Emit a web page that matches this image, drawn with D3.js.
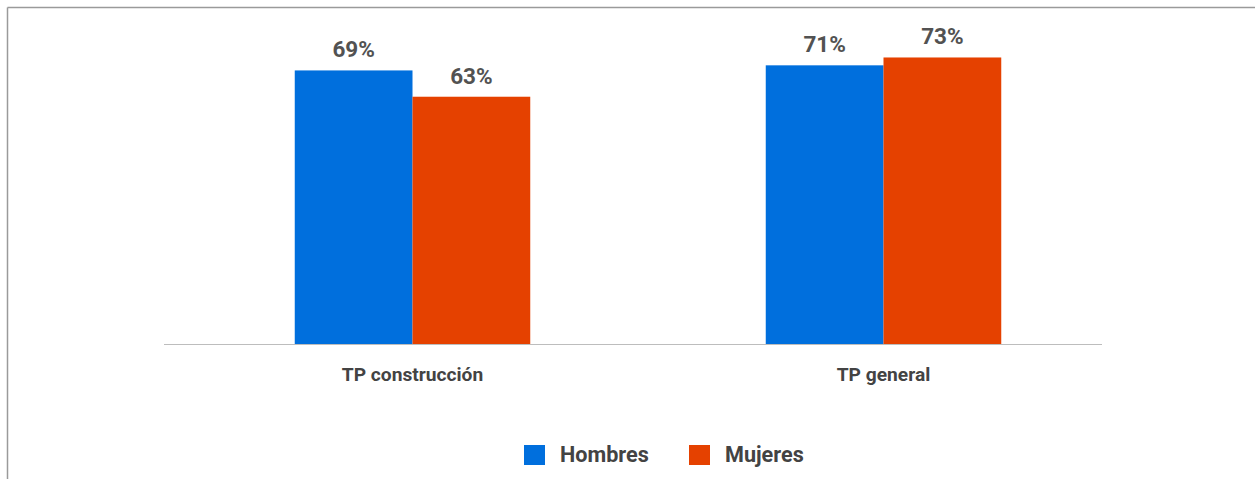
<!DOCTYPE html>
<html>
<head>
<meta charset="utf-8">
<script src="https://cdn.jsdelivr.net/npm/d3@7"></script>
<style>
  body { margin: 0; background: #fff; }
  svg { display: block; font-family: Roboto, "Noto Sans", sans-serif; }
</style>
</head>
<body>
<div id="chart"></div>
<script>
(function() {
  var width = 1255;
  var height = 479;

  // data (bar heights)
  var categories = ['TP construcción', 'TP general'];
  var seriesNames = ['Hombres', 'Mujeres'];
  var hombres = [69.7, 71];
  var mujeres = [63, 73];
  // value labels as printed on the chart
  var hombresLabels = ['69%', '71%'];
  var mujeresLabels = ['63%', '73%'];
  var colors = ['#006fdd', '#e54100'];

  var baseY = 344;
  var topY = 30;

  var svg = d3.select('#chart').append('svg')
    .attr('width', width)
    .attr('height', height);

  // frame lines (top and left)
  svg.append('line')
    .attr('x1', 7.5).attr('x2', width).attr('y1', 7.5).attr('y2', 7.5)
    .attr('stroke', '#9a9a9a').attr('stroke-width', 1.5);
  svg.append('line')
    .attr('x1', 7.5).attr('x2', 7.5).attr('y1', 7.5).attr('y2', height)
    .attr('stroke', '#9a9a9a').attr('stroke-width', 1.5);

  var x0 = d3.scaleBand()
    .domain(categories)
    .range([177, 1119])
    .paddingInner(0.5)
    .paddingOuter(0.25);

  var x1 = d3.scaleBand()
    .domain(seriesNames)
    .range([0, x0.bandwidth()]);

  var y = d3.scaleLinear()
    .domain([0, 80])
    .range([baseY, topY]);

  var rows = categories.map(function(c, i) {
    return {
      category: c,
      values: [
        { v: hombres[i], label: hombresLabels[i] },
        { v: mujeres[i], label: mujeresLabels[i] }
      ]
    };
  });

  var groups = svg.selectAll('.group')
    .data(rows)
    .enter().append('g')
    .attr('class', 'group')
    .attr('transform', function(d) { return 'translate(' + x0(d.category) + ',0)'; });

  groups.selectAll('rect')
    .data(function(d) { return d.values; })
    .enter().append('rect')
    .attr('x', function(d, i) { return x1(seriesNames[i]); })
    .attr('y', function(d) { return y(d.v); })
    .attr('width', x1.bandwidth())
    .attr('height', function(d) { return baseY - y(d.v); })
    .attr('fill', function(d, i) { return colors[i]; });

  groups.selectAll('.value')
    .data(function(d) { return d.values; })
    .enter().append('text')
    .attr('class', 'value')
    .attr('x', function(d, i) { return x1(seriesNames[i]) + x1.bandwidth() / 2; })
    .attr('y', function(d) { return y(d.v) - 13; })
    .attr('text-anchor', 'middle')
    .attr('font-size', 22.5)
    .attr('font-weight', 'bold')
    .attr('fill', '#525252')
    .text(function(d) { return d.label; });

  // baseline
  svg.append('line')
    .attr('x1', 164).attr('x2', 1102)
    .attr('y1', baseY + 0.5).attr('y2', baseY + 0.5)
    .attr('stroke', '#bdbdbd').attr('stroke-width', 1.2);

  // category labels
  svg.selectAll('.cat')
    .data(categories)
    .enter().append('text')
    .attr('class', 'cat')
    .attr('x', function(d) { return x0(d) + x0.bandwidth() / 2; })
    .attr('y', 381)
    .attr('text-anchor', 'middle')
    .attr('font-size', 19.2)
    .attr('font-weight', 'bold')
    .attr('fill', '#434343')
    .text(function(d) { return d; });

  // legend
  var legendX = [524, 689];
  var legend = svg.selectAll('.legend')
    .data(seriesNames)
    .enter().append('g')
    .attr('class', 'legend')
    .attr('transform', function(d, i) { return 'translate(' + legendX[i] + ',445)'; });

  legend.append('rect')
    .attr('width', 21)
    .attr('height', 20)
    .attr('fill', function(d, i) { return colors[i]; });

  legend.append('text')
    .attr('x', 36)
    .attr('y', 17)
    .attr('font-size', 21.6)
    .attr('font-weight', 'bold')
    .attr('fill', '#434343')
    .text(function(d) { return d; });
})();
</script>
</body>
</html>
